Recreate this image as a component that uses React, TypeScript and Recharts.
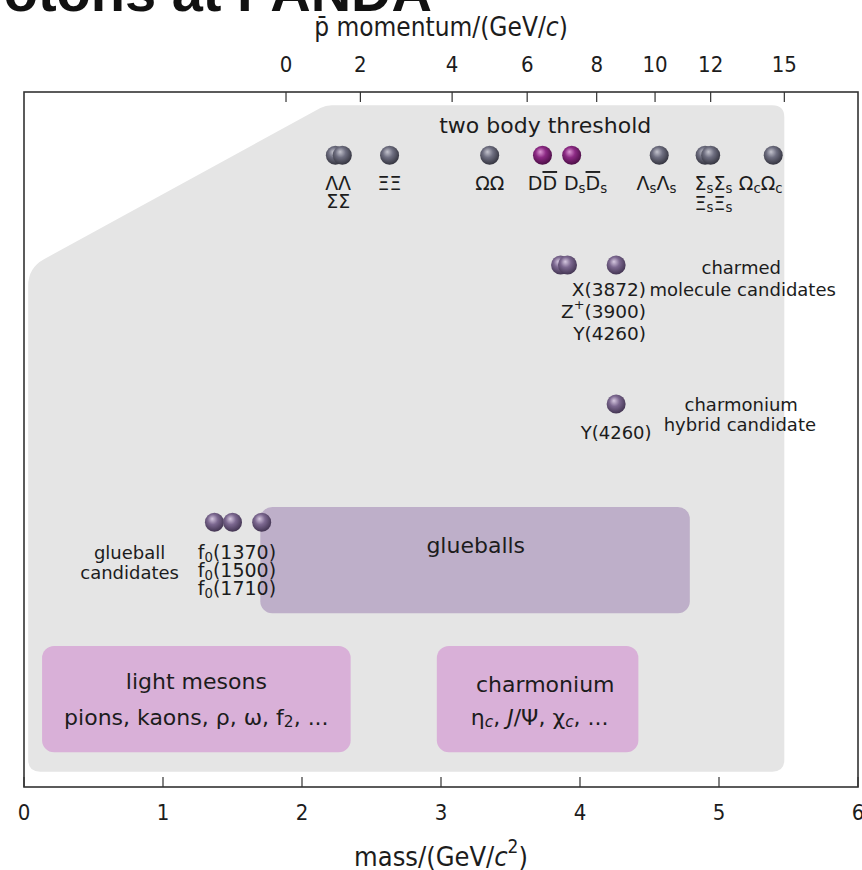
import React from 'react';
import { ComposedChart, XAxis, YAxis, Scatter, ReferenceArea } from 'recharts';

const W = 862;
const H = 870;

// bottom axis: mass/(GeV/c^2)
const MASS_TICKS = [0, 1, 2, 3, 4, 5, 6];
// top axis: pbar momentum labels and the mass where each one sits
const MOMENTUM_LABELS = ['0', '2', '4', '6', '8', '10', '12', '15'];
const MOMENTUM_AT_MASS = [1.885, 2.42, 3.08, 3.62, 4.12, 4.54, 4.94, 5.47];

// rows (vertical level, 0..100 from the bottom axis to the top frame)
const ROW_THRESHOLD = 90.9;
const ROW_MOLECULE = 75.1;
const ROW_HYBRID = 55.1;
const ROW_GLUEBALL = 38.1;

// ball masses
const THRESHOLD_MASS = [2.24, 2.29, 2.63, 3.35, 4.57, 4.9, 4.94, 5.39];
const OPEN_CHARM_MASS = [3.73, 3.94];
const MOLECULE_MASS = [3.86, 3.91, 4.26];
const HYBRID_MASS = [4.26];
const GLUEBALL_MASS = [1.37, 1.5, 1.71];

// grey "two body threshold" region
const GREY_X1 = 0.03;
const GREY_X2 = 5.47;
const GREY_Y1 = 2.2;
const GREY_Y2 = 98.1;
const GREY_CUT_X = 2.17;
const GREY_CUT_Y = 74.7;

// boxes: [x1, x2, y1, y2]
const GLUEBALL_BOX = [1.7, 4.79, 25.0, 40.3];
const LIGHT_BOX = [0.13, 2.35, 5.0, 20.3];
const CHARMONIUM_BOX = [2.97, 4.42, 5.0, 20.3];

// labels (markup: _x subscript, ^x superscript, ~x overline, *..* italic)
const THRESHOLD_LABELS = [
  { x: 2.26, y: 86.9, text: 'ΛΛ' },
  { x: 2.26, y: 84.3, text: 'ΣΣ' },
  { x: 2.63, y: 86.9, text: 'ΞΞ' },
  { x: 3.35, y: 86.9, text: 'ΩΩ' },
  { x: 3.73, y: 86.9, text: 'D~D' },
  { x: 4.04, y: 86.9, text: 'D_s~D_s' },
  { x: 4.55, y: 86.9, text: 'Λ_sΛ_s' },
  { x: 4.96, y: 86.9, text: 'Σ_sΣ_s' },
  { x: 4.96, y: 84.1, text: 'Ξ_sΞ_s' },
  { x: 5.3, y: 86.9, text: 'Ω_cΩ_c' },
];

const BIG_LABELS = [
  { x: 3.75, y: 95.3, text: 'two body threshold' },
  { x: 3.25, y: 34.8, text: 'glueballs' },
  { x: 1.24, y: 15.3, text: 'light mesons' },
  { x: 1.24, y: 10.1, text: 'pions, kaons, ρ, ω, f_2, ...' },
  { x: 3.75, y: 14.8, text: 'charmonium' },
  { x: 3.71, y: 10.1, text: 'η*_c*, *J*/Ψ, χ*_c*, ...' },
];

const NOTE_LABELS = [
  { x: 5.16, y: 74.8, text: 'charmed' },
  { x: 5.17, y: 71.7, text: 'molecule candidates' },
  { x: 5.16, y: 55.1, text: 'charmonium' },
  { x: 5.15, y: 52.2, text: 'hybrid candidate' },
  { x: 4.26, y: 51.1, text: 'Y(4260)' },
  { x: 0.76, y: 33.8, text: 'glueball' },
  { x: 0.76, y: 30.9, text: 'candidates' },
];

const MOLECULE_LABELS = [
  { x: 4.475, y: 71.7, text: 'X(3872)' },
  { x: 4.475, y: 68.5, text: 'Z^+(3900)' },
  { x: 4.475, y: 65.3, text: 'Y(4260)' },
];

const GLUEBALL_LABELS = [
  { x: 1.25, y: 33.8, text: 'f_0(1370)' },
  { x: 1.25, y: 31.2, text: 'f_0(1500)' },
  { x: 1.25, y: 28.6, text: 'f_0(1710)' },
];

const TEXT = '#1c1c1c';
const SANS = "'DejaVu Sans', 'Noto Sans', sans-serif";
const NARROW = "'DejaVu Sans Condensed', 'Liberation Sans Narrow', 'DejaVu Sans', sans-serif";

type Seg = { t: string; sub?: boolean; sup?: boolean; over?: boolean; it: boolean };

const parse = (s: string): Seg[] => {
  const out: Seg[] = [];
  let it = false;
  for (let i = 0; i < s.length; i++) {
    const c = s[i];
    if (c === '*') { it = !it; continue; }
    if (c === '_' || c === '^' || c === '~') {
      out.push({ t: s[i + 1], sub: c === '_', sup: c === '^', over: c === '~', it });
      i++;
      continue;
    }
    const last = out[out.length - 1];
    if (last && !last.sub && !last.sup && !last.over && last.it === it) last.t += c;
    else out.push({ t: c, it });
  }
  return out;
};

const RichText = ({ x, y, text, size, anchor = 'middle', family = SANS }: any) => {
  let cur = 0;
  return (
    <text x={x} y={y} fontSize={size} textAnchor={anchor} dominantBaseline="central" fill={TEXT} fontFamily={family}>
      {parse(text).map((s, i) => {
        const target = s.sub ? size * 0.25 : s.sup ? -size * 0.38 : 0;
        const dy = target - cur;
        cur = target;
        return (
          <tspan
            key={i}
            dy={dy}
            fontSize={s.sub || s.sup ? size * 0.7 : size}
            fontStyle={s.it ? 'italic' : 'normal'}
            style={s.over ? { textDecoration: 'overline' } : undefined}
          >
            {s.t}
          </tspan>
        );
      })}
    </text>
  );
};

const labelShape = (size: number, anchor: string) => (props: any) => {
  const p = props.payload || props;
  return <RichText x={props.cx} y={props.cy} text={p.text} size={size} anchor={anchor} />;
};

const ballShape = (grad: string) => (props: any) => (
  <circle cx={props.cx} cy={props.cy} r={9.5} fill={`url(#${grad})`} />
);

const Nothing = () => <g />;

const GreyShape = (props: any) => {
  const { x, y, width: w, height: h } = props;
  const cx = x + (w * (GREY_CUT_X - GREY_X1)) / (GREY_X2 - GREY_X1);
  const cy = y + (h * (GREY_Y2 - GREY_CUT_Y)) / (GREY_Y2 - GREY_Y1);
  const r = 12;
  const rl = 18;
  const len = Math.hypot(cx - x, cy - y);
  const ux = (cx - x) / len;
  const vy = (y - cy) / len;
  const d = [
    `M ${x} ${cy + rl}`,
    `Q ${x} ${cy} ${x + ux * rl} ${cy + vy * rl}`,
    `L ${cx - ux * 6} ${y - vy * 6}`,
    `Q ${cx} ${y} ${cx + 6} ${y}`,
    `L ${x + w - r} ${y}`,
    `Q ${x + w} ${y} ${x + w} ${y + r}`,
    `L ${x + w} ${y + h - r}`,
    `Q ${x + w} ${y + h} ${x + w - r} ${y + h}`,
    `L ${x + r} ${y + h}`,
    `Q ${x} ${y + h} ${x} ${y + h - r}`,
    'Z',
  ].join(' ');
  return <path d={d} fill="#e5e5e5" />;
};

const boxShape = (fill: string) => (props: any) => (
  <rect x={props.x} y={props.y} width={props.width} height={props.height} rx={12} ry={12} fill={fill} />
);

const FrameShape = (props: any) => (
  <rect x={props.x} y={props.y} width={props.width} height={props.height} fill="none" stroke="#333" strokeWidth={1.6} />
);

const BottomTick = (props: any) => {
  const { x, y, payload } = props;
  return (
    <g>
      <line x1={x} x2={x} y1={y} y2={y - 10} stroke="#333" strokeWidth={1.2} />
      <text x={x} y={y + 25} textAnchor="middle" dominantBaseline="central" fontSize={22} fontFamily={NARROW} fill={TEXT}>
        {payload.value}
      </text>
    </g>
  );
};

const TopTick = (props: any) => {
  const { x, y, payload } = props;
  const i = MOMENTUM_AT_MASS.indexOf(payload.value);
  return (
    <g>
      <line x1={x} x2={x} y1={y} y2={y + 10} stroke="#333" strokeWidth={1.2} />
      <text x={x} y={y - 28} textAnchor="middle" dominantBaseline="central" fontSize={22} fontFamily={NARROW} fill={TEXT}>
        {MOMENTUM_LABELS[i]}
      </text>
    </g>
  );
};

const TopTitle = (props: any) => {
  const vb = props.viewBox || {};
  const cx = vb.x + vb.width / 2;
  return (
    <g>
      <text x={432} y={11} textAnchor="end" fontSize={56} fontWeight="bold" fontFamily="'Liberation Sans', Arial, sans-serif" fill="#111">
        protons at PANDA
      </text>
      <RichText x={cx} y={27} text={'p\u0304 momentum/(GeV/*c*)'} size={26} family={NARROW} />
    </g>
  );
};

const BottomTitle = (props: any) => {
  const vb = props.viewBox || {};
  return <RichText x={vb.x + vb.width / 2} y={856} text="mass/(GeV/*c*^2)" size={27} family={NARROW} />;
};

const Gradients = () => (
  <svg width={0} height={0} style={{ position: 'absolute' }}>
    <defs>
      <radialGradient id="ballGrey" cx="0.45" cy="0.4" r="0.6" fx="0.38" fy="0.32">
        <stop offset="0%" stopColor="#c4c4ce" />
        <stop offset="45%" stopColor="#6e6e80" />
        <stop offset="100%" stopColor="#34343f" />
      </radialGradient>
      <radialGradient id="ballCharm" cx="0.45" cy="0.4" r="0.6" fx="0.38" fy="0.32">
        <stop offset="0%" stopColor="#dc98d4" />
        <stop offset="45%" stopColor="#8c2a84" />
        <stop offset="100%" stopColor="#4c0e46" />
      </radialGradient>
      <radialGradient id="ballMuted" cx="0.45" cy="0.4" r="0.6" fx="0.38" fy="0.32">
        <stop offset="0%" stopColor="#d6c8e0" />
        <stop offset="45%" stopColor="#7c6890" />
        <stop offset="100%" stopColor="#433552" />
      </radialGradient>
    </defs>
  </svg>
);

const atRow = (masses: number[], y: number) => masses.map((x) => ({ x, y }));

export default function App() {
  return (
    <div style={{ position: 'relative', width: W, height: H }}>
      <style>{'body{margin:0}'}</style>
      <Gradients />
      <ComposedChart width={W} height={H} margin={{ top: 62, right: 4, bottom: 53, left: 24 }}>
        <XAxis
          xAxisId={0}
          dataKey="x"
          type="number"
          domain={[0, 6]}
          allowDataOverflow
          ticks={MASS_TICKS}
          interval={0}
          height={30}
          axisLine={false}
          tickLine={false}
          tickSize={0}
          tickMargin={0}
          tick={<BottomTick />}
          label={<BottomTitle />}
        />
        <XAxis
          xAxisId="top"
          dataKey="x"
          orientation="top"
          type="number"
          domain={[0, 6]}
          allowDataOverflow
          ticks={MOMENTUM_AT_MASS}
          interval={0}
          height={30}
          axisLine={false}
          tickLine={false}
          tickSize={0}
          tickMargin={0}
          tick={<TopTick />}
          label={<TopTitle />}
        />
        <YAxis dataKey="y" type="number" domain={[0, 100]} allowDataOverflow hide />

        <ReferenceArea x1={GREY_X1} x2={GREY_X2} y1={GREY_Y1} y2={GREY_Y2} shape={GreyShape} />
        <ReferenceArea x1={GLUEBALL_BOX[0]} x2={GLUEBALL_BOX[1]} y1={GLUEBALL_BOX[2]} y2={GLUEBALL_BOX[3]} shape={boxShape('#beafc9')} />
        <ReferenceArea x1={LIGHT_BOX[0]} x2={LIGHT_BOX[1]} y1={LIGHT_BOX[2]} y2={LIGHT_BOX[3]} shape={boxShape('#d9b0d8')} />
        <ReferenceArea x1={CHARMONIUM_BOX[0]} x2={CHARMONIUM_BOX[1]} y1={CHARMONIUM_BOX[2]} y2={CHARMONIUM_BOX[3]} shape={boxShape('#d9b0d8')} />
        <ReferenceArea x1={0} x2={6} y1={0} y2={100} shape={FrameShape} />

        {/* keeps the momentum axis tied to a series so its ticks are built */}
        <Scatter xAxisId="top" data={atRow(MOMENTUM_AT_MASS, 0)} shape={Nothing} isAnimationActive={false} />

        <Scatter data={atRow(THRESHOLD_MASS, ROW_THRESHOLD)} shape={ballShape('ballGrey')} isAnimationActive={false} />
        <Scatter data={atRow(OPEN_CHARM_MASS, ROW_THRESHOLD)} shape={ballShape('ballCharm')} isAnimationActive={false} />
        <Scatter data={atRow(MOLECULE_MASS, ROW_MOLECULE)} shape={ballShape('ballMuted')} isAnimationActive={false} />
        <Scatter data={atRow(HYBRID_MASS, ROW_HYBRID)} shape={ballShape('ballMuted')} isAnimationActive={false} />
        <Scatter data={atRow(GLUEBALL_MASS, ROW_GLUEBALL)} shape={ballShape('ballMuted')} isAnimationActive={false} />

        <Scatter data={THRESHOLD_LABELS} shape={labelShape(19, 'middle')} isAnimationActive={false} />
        <Scatter data={BIG_LABELS} shape={labelShape(22, 'middle')} isAnimationActive={false} />
        <Scatter data={NOTE_LABELS} shape={labelShape(18, 'middle')} isAnimationActive={false} />
        <Scatter data={MOLECULE_LABELS} shape={labelShape(18.5, 'end')} isAnimationActive={false} />
        <Scatter data={GLUEBALL_LABELS} shape={labelShape(19, 'start')} isAnimationActive={false} />
      </ComposedChart>
    </div>
  );
}
